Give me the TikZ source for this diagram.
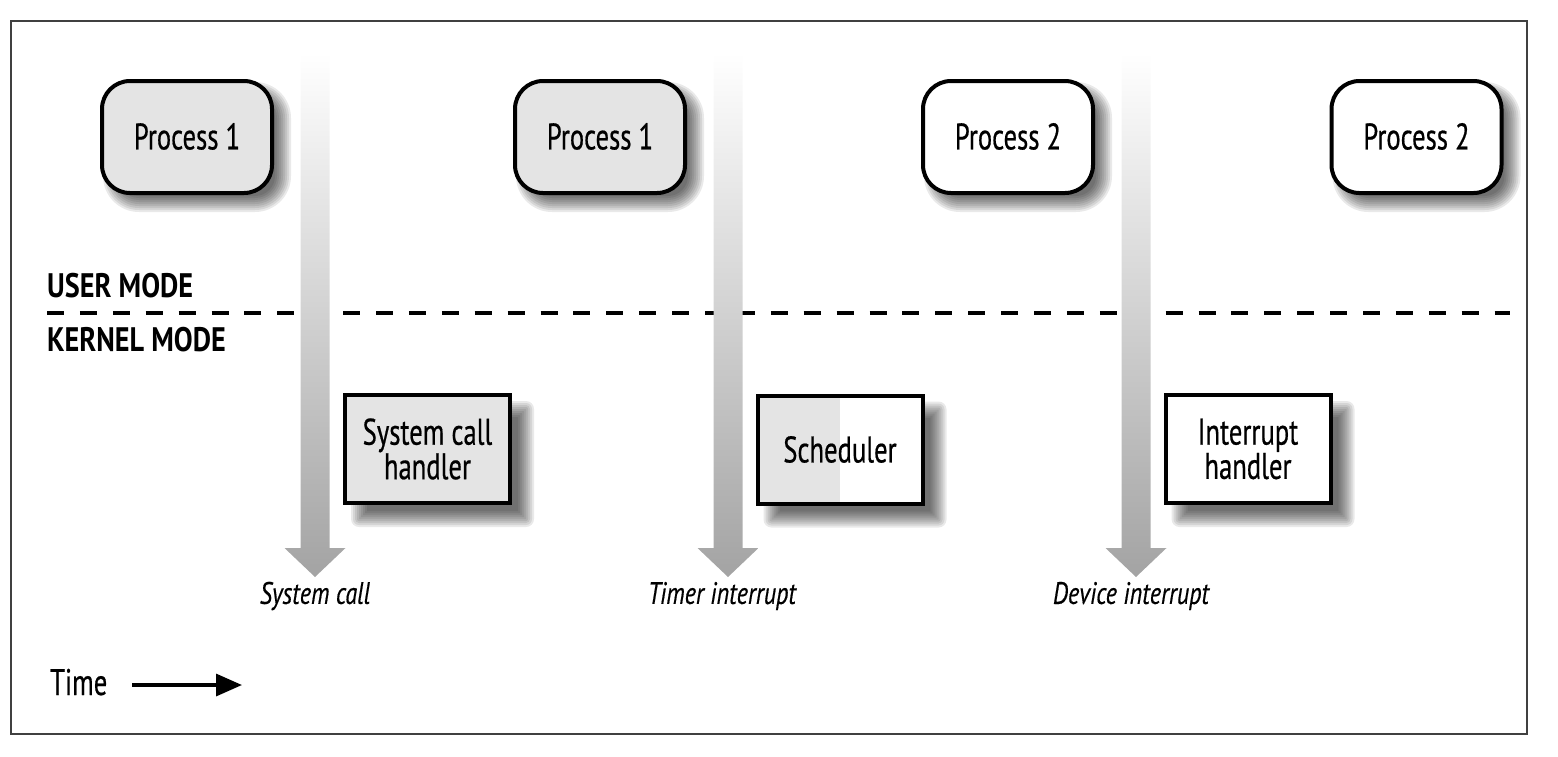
\documentclass[tikz,border=0pt]{standalone}
\usepackage{fontspec}
\setmainfont{PT Sans}[FakeStretch=0.72,FakeBold=0.5,
  BoldFeatures={FakeStretch=0.83,FakeBold=0},
  ItalicFeatures={FakeStretch=0.78,FakeBold=0.4}]
\usetikzlibrary{arrows.meta}
\definecolor{boxgray}{HTML}{E4E4E4}
\newcommand\softshadow[5]{% cx cy w h r
  \foreach \e in {-8,-6,...,8}{
    \pgfmathsetmacro\rr{max(#5+\e,0.5)}
    \pgfmathsetmacro\xa{#1-#3/2-\e}
    \pgfmathsetmacro\xb{#1+#3/2+\e}
    \pgfmathsetmacro\ya{#2-#4/2-\e}
    \pgfmathsetmacro\yb{#2+#4/2+\e}
    \fill[black,opacity=0.085,rounded corners=\rr pt]
      (\xa,\ya) rectangle (\xb,\yb);
  }}
\newcommand\eventarrow[1]{%
  \shade[top color=white,bottom color=black!36]
    (#1-14.5,53) -- (#1+14.5,53) -- (#1+14.5,548) -- (#1+30.5,548)
    -- (#1,577) -- (#1-30.5,548) -- (#1-14.5,548) -- cycle;}
\begin{document}
\begin{tikzpicture}[x=1pt,y=-1pt,
  boxfont/.style={font=\fontsize{37}{33}\selectfont},
  pbox/.style={draw=black,line width=4pt,rounded corners=28pt,
    minimum width=170pt,minimum height=112pt,inner sep=0pt,boxfont},
  kbox/.style={draw=black,line width=4pt,minimum width=165pt,
    minimum height=108pt,inner sep=0pt,align=center,boxfont},
  modelabel/.style={anchor=base west,inner sep=0pt,font=\bfseries\fontsize{34}{36}\selectfont},
  eventlabel/.style={inner sep=0pt,font=\itshape\fontsize{31}{33}\selectfont}]
\useasboundingbox (0,0) rectangle (1558,756);
\draw[line width=2pt,draw=black!75] (11,21) rectangle (1527,734);

% mode separator
\coordinate (dl) at (47,313);
\coordinate (dr) at (1510,313);
\draw[line width=4pt,dash pattern=on 17pt off 15.9pt] (dl) -- (dr);
\node[modelabel] (user) at (47,297) {USER MODE};
\node[modelabel] (kernel) at (47,351) {KERNEL MODE};

% event arrows
\eventarrow{315}
\eventarrow{728}
\eventarrow{1136}

% shadows
\softshadow{197}{147}{172}{114}{28}
\softshadow{610}{147}{172}{114}{28}
\softshadow{1018}{147}{172}{114}{28}
\softshadow{1426.5}{147}{172}{114}{28}
\softshadow{442.5}{464}{167}{110}{0}
\softshadow{855}{464.5}{167}{110}{0}
\softshadow{1263}{464}{167}{110}{0}

% process boxes
\node[pbox,fill=boxgray] (p1) at (187,137) {\raisebox{1.5pt}{Process 1}};
\node[pbox,fill=boxgray] (p1b) at (600,137) {\raisebox{1.5pt}{Process 1}};
\node[pbox,fill=white] (p2) at (1008,137) {\raisebox{1.5pt}{Process 2}};
\node[pbox,fill=white] (p2b) at (1416.5,137) {\raisebox{1.5pt}{Process 2}};

% kernel boxes
\node[kbox,fill=boxgray] (sch) at (427.5,449) {System call\\handler};
\node[kbox,fill=white,path picture={\fill[boxgray]
  (path picture bounding box.south west) rectangle (path picture bounding box.north);}]
  (sched) at (840,449.5) {Scheduler};
\node[kbox,fill=white] (ih) at (1248,449) {Interrupt\\handler};

% event labels
\node[eventlabel] (e1) at (315,596) {System call};
\node[eventlabel] (e2) at (722,596) {Timer interrupt};
\node[eventlabel] (e3) at (1131,596) {Device interrupt};

% time
\node[anchor=base west,inner sep=0pt,boxfont] (time) at (50,695) {Time};
\coordinate (t0) at (132,685);
\coordinate (t1) at (242,685);
\draw[line width=3.3pt,-{Triangle[length=26pt,width=22pt]}] (t0) -- (t1);
\end{tikzpicture}
\end{document}
